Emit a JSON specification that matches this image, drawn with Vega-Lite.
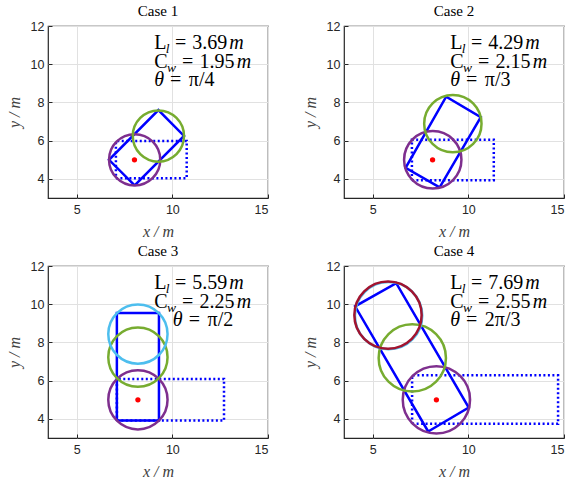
{
  "$schema": "https://vega.github.io/schema/vega-lite/v6.json",
  "background": "white",
  "padding": {"left": 5, "top": 3, "right": 5, "bottom": 3},
  "data": {"values": [
    {"case": "Case 1", "t": "dotted", "i": 1, "x": 7.05, "y": 4.03},
    {"case": "Case 1", "t": "dotted", "i": 2, "x": 10.75, "y": 4.03},
    {"case": "Case 1", "t": "dotted", "i": 3, "x": 10.75, "y": 5.98},
    {"case": "Case 1", "t": "dotted", "i": 4, "x": 7.05, "y": 5.98},
    {"case": "Case 1", "t": "dotted", "i": 5, "x": 7.05, "y": 4.03},
    {"case": "Case 1", "t": "solid", "i": 1, "x": 8.03, "y": 3.66},
    {"case": "Case 1", "t": "solid", "i": 2, "x": 10.61, "y": 6.25},
    {"case": "Case 1", "t": "solid", "i": 3, "x": 9.27, "y": 7.6},
    {"case": "Case 1", "t": "solid", "i": 4, "x": 6.69, "y": 5.0},
    {"case": "Case 1", "t": "solid", "i": 5, "x": 8.03, "y": 3.66},
    {"case": "Case 1", "t": "circle", "k": "1", "x": 8.03, "y": 5.0, "r": 1.34},
    {"case": "Case 1", "t": "circle", "k": "2", "x": 9.27, "y": 6.24, "r": 1.34},
    {"case": "Case 1", "t": "dot", "x": 8.02, "y": 5.0},
    {"case": "Case 1", "t": "tu", "x": 9.05, "y": 10.79, "s": "L"},
    {"case": "Case 1", "t": "ts", "x": 9.66, "y": 10.79, "s": "l"},
    {"case": "Case 1", "t": "tu", "x": 10.14, "y": 10.79, "s": "="},
    {"case": "Case 1", "t": "tu", "x": 11.04, "y": 10.79, "s": "3.69"},
    {"case": "Case 1", "t": "ti", "x": 12.98, "y": 10.79, "s": "m"},
    {"case": "Case 1", "t": "tu", "x": 9.05, "y": 9.82, "s": "C"},
    {"case": "Case 1", "t": "ts", "x": 9.72, "y": 9.82, "s": "w"},
    {"case": "Case 1", "t": "tu", "x": 10.5, "y": 9.82, "s": "="},
    {"case": "Case 1", "t": "tu", "x": 11.42, "y": 9.82, "s": "1.95"},
    {"case": "Case 1", "t": "ti", "x": 13.37, "y": 9.82, "s": "m"},
    {"case": "Case 1", "t": "ti", "x": 9.05, "y": 8.88, "s": "θ"},
    {"case": "Case 1", "t": "tu", "x": 9.88, "y": 8.88, "s": "="},
    {"case": "Case 1", "t": "tu", "x": 10.86, "y": 8.88, "s": "π/4"},

    {"case": "Case 2", "t": "dotted", "i": 1, "x": 7.05, "y": 3.93},
    {"case": "Case 2", "t": "dotted", "i": 2, "x": 11.33, "y": 3.93},
    {"case": "Case 2", "t": "dotted", "i": 3, "x": 11.33, "y": 6.05},
    {"case": "Case 2", "t": "dotted", "i": 4, "x": 7.05, "y": 6.05},
    {"case": "Case 2", "t": "dotted", "i": 5, "x": 7.05, "y": 3.93},
    {"case": "Case 2", "t": "solid", "i": 1, "x": 8.5, "y": 3.56},
    {"case": "Case 2", "t": "solid", "i": 2, "x": 10.65, "y": 7.23},
    {"case": "Case 2", "t": "solid", "i": 3, "x": 8.84, "y": 8.3},
    {"case": "Case 2", "t": "solid", "i": 4, "x": 6.72, "y": 4.58},
    {"case": "Case 2", "t": "solid", "i": 5, "x": 8.5, "y": 3.56},
    {"case": "Case 2", "t": "circle", "k": "1", "x": 8.14, "y": 5.0, "r": 1.5},
    {"case": "Case 2", "t": "circle", "k": "2", "x": 9.19, "y": 6.89, "r": 1.5},
    {"case": "Case 2", "t": "dot", "x": 8.13, "y": 5.0},
    {"case": "Case 2", "t": "tu", "x": 9.05, "y": 10.79, "s": "L"},
    {"case": "Case 2", "t": "ts", "x": 9.66, "y": 10.79, "s": "l"},
    {"case": "Case 2", "t": "tu", "x": 10.14, "y": 10.79, "s": "="},
    {"case": "Case 2", "t": "tu", "x": 11.04, "y": 10.79, "s": "4.29"},
    {"case": "Case 2", "t": "ti", "x": 12.98, "y": 10.79, "s": "m"},
    {"case": "Case 2", "t": "tu", "x": 9.05, "y": 9.82, "s": "C"},
    {"case": "Case 2", "t": "ts", "x": 9.72, "y": 9.82, "s": "w"},
    {"case": "Case 2", "t": "tu", "x": 10.5, "y": 9.82, "s": "="},
    {"case": "Case 2", "t": "tu", "x": 11.42, "y": 9.82, "s": "2.15"},
    {"case": "Case 2", "t": "ti", "x": 13.37, "y": 9.82, "s": "m"},
    {"case": "Case 2", "t": "ti", "x": 9.05, "y": 8.88, "s": "θ"},
    {"case": "Case 2", "t": "tu", "x": 9.88, "y": 8.88, "s": "="},
    {"case": "Case 2", "t": "tu", "x": 10.86, "y": 8.88, "s": "π/3"},

    {"case": "Case 3", "t": "dotted", "i": 1, "x": 7.1, "y": 3.91},
    {"case": "Case 3", "t": "dotted", "i": 2, "x": 12.7, "y": 3.91},
    {"case": "Case 3", "t": "dotted", "i": 3, "x": 12.7, "y": 6.09},
    {"case": "Case 3", "t": "dotted", "i": 4, "x": 7.1, "y": 6.09},
    {"case": "Case 3", "t": "dotted", "i": 5, "x": 7.1, "y": 3.91},
    {"case": "Case 3", "t": "solid", "i": 1, "x": 7.1, "y": 3.91},
    {"case": "Case 3", "t": "solid", "i": 2, "x": 9.3, "y": 3.91},
    {"case": "Case 3", "t": "solid", "i": 3, "x": 9.3, "y": 9.54},
    {"case": "Case 3", "t": "solid", "i": 4, "x": 7.1, "y": 9.54},
    {"case": "Case 3", "t": "solid", "i": 5, "x": 7.1, "y": 3.91},
    {"case": "Case 3", "t": "circle", "k": "1", "x": 8.2, "y": 5.0, "r": 1.55},
    {"case": "Case 3", "t": "circle", "k": "2", "x": 8.2, "y": 7.23, "r": 1.55},
    {"case": "Case 3", "t": "circle", "k": "3", "x": 8.2, "y": 8.44, "r": 1.55},
    {"case": "Case 3", "t": "dot", "x": 8.2, "y": 5.0},
    {"case": "Case 3", "t": "tu", "x": 9.05, "y": 10.79, "s": "L"},
    {"case": "Case 3", "t": "ts", "x": 9.66, "y": 10.79, "s": "l"},
    {"case": "Case 3", "t": "tu", "x": 10.14, "y": 10.79, "s": "="},
    {"case": "Case 3", "t": "tu", "x": 11.04, "y": 10.79, "s": "5.59"},
    {"case": "Case 3", "t": "ti", "x": 12.98, "y": 10.79, "s": "m"},
    {"case": "Case 3", "t": "tu", "x": 9.05, "y": 9.82, "s": "C"},
    {"case": "Case 3", "t": "ts", "x": 9.72, "y": 9.82, "s": "w"},
    {"case": "Case 3", "t": "tu", "x": 10.5, "y": 9.82, "s": "="},
    {"case": "Case 3", "t": "tu", "x": 11.42, "y": 9.82, "s": "2.25"},
    {"case": "Case 3", "t": "ti", "x": 13.37, "y": 9.82, "s": "m"},
    {"case": "Case 3", "t": "ti", "x": 10.02, "y": 8.88, "s": "θ"},
    {"case": "Case 3", "t": "tu", "x": 10.86, "y": 8.88, "s": "="},
    {"case": "Case 3", "t": "tu", "x": 11.84, "y": 8.88, "s": "π/2"},

    {"case": "Case 4", "t": "dotted", "i": 1, "x": 7.06, "y": 3.75},
    {"case": "Case 4", "t": "dotted", "i": 2, "x": 14.69, "y": 3.75},
    {"case": "Case 4", "t": "dotted", "i": 3, "x": 14.69, "y": 6.28},
    {"case": "Case 4", "t": "dotted", "i": 4, "x": 7.06, "y": 6.28},
    {"case": "Case 4", "t": "dotted", "i": 5, "x": 7.06, "y": 3.75},
    {"case": "Case 4", "t": "solid", "i": 1, "x": 7.9, "y": 3.34},
    {"case": "Case 4", "t": "solid", "i": 2, "x": 10.02, "y": 4.59},
    {"case": "Case 4", "t": "solid", "i": 3, "x": 6.23, "y": 11.1},
    {"case": "Case 4", "t": "solid", "i": 4, "x": 4.08, "y": 9.89},
    {"case": "Case 4", "t": "solid", "i": 5, "x": 7.9, "y": 3.34},
    {"case": "Case 4", "t": "circle", "k": "1", "x": 8.33, "y": 5.0, "r": 1.76},
    {"case": "Case 4", "t": "circle", "k": "2", "x": 7.07, "y": 7.19, "r": 1.76},
    {"case": "Case 4", "t": "circle", "k": "3", "x": 5.83, "y": 9.4, "r": 1.76},
    {"case": "Case 4", "t": "circle", "k": "4", "x": 5.8, "y": 9.43, "r": 1.76},
    {"case": "Case 4", "t": "dot", "x": 8.33, "y": 5.0},
    {"case": "Case 4", "t": "tu", "x": 9.05, "y": 10.79, "s": "L"},
    {"case": "Case 4", "t": "ts", "x": 9.66, "y": 10.79, "s": "l"},
    {"case": "Case 4", "t": "tu", "x": 10.14, "y": 10.79, "s": "="},
    {"case": "Case 4", "t": "tu", "x": 11.04, "y": 10.79, "s": "7.69"},
    {"case": "Case 4", "t": "ti", "x": 12.98, "y": 10.79, "s": "m"},
    {"case": "Case 4", "t": "tu", "x": 9.05, "y": 9.82, "s": "C"},
    {"case": "Case 4", "t": "ts", "x": 9.72, "y": 9.82, "s": "w"},
    {"case": "Case 4", "t": "tu", "x": 10.5, "y": 9.82, "s": "="},
    {"case": "Case 4", "t": "tu", "x": 11.42, "y": 9.82, "s": "2.55"},
    {"case": "Case 4", "t": "ti", "x": 13.37, "y": 9.82, "s": "m"},
    {"case": "Case 4", "t": "ti", "x": 9.05, "y": 8.88, "s": "θ"},
    {"case": "Case 4", "t": "tu", "x": 9.88, "y": 8.88, "s": "="},
    {"case": "Case 4", "t": "tu", "x": 10.86, "y": 8.88, "s": "2π/3"}
  ]},
  "facet": {
    "field": "case", "type": "nominal",
    "header": {"title": null, "labelFont": "Liberation Serif", "labelFontSize": 15, "labelColor": "#000000", "labelPadding": 1}
  },
  "columns": 2,
  "spacing": {"row": 68, "column": 76},
  "bounds": "flush",
  "resolve": {"axis": {"x": "independent", "y": "independent"}},
  "spec": {
    "width": 220,
    "height": 172,
    "encoding": {
      "x": {"field": "x", "type": "quantitative",
            "scale": {"domain": [3.5, 15], "nice": false, "zero": false},
            "axis": {"values": [5, 10, 15], "title": "x / m"}},
      "y": {"field": "y", "type": "quantitative",
            "scale": {"domain": [3, 12], "nice": false, "zero": false},
            "axis": {"values": [4, 6, 8, 10, 12], "title": "y / m"}}
    },
    "layer": [
      {"transform": [{"filter": "datum.t === 'dotted'"}],
       "mark": {"type": "line", "color": "#0000FF", "strokeWidth": 2.5, "strokeDash": [2, 2.5], "strokeCap": "butt"},
       "encoding": {"order": {"field": "i", "type": "quantitative"}}},
      {"transform": [{"filter": "datum.t === 'solid'"}],
       "mark": {"type": "line", "color": "#0000FF", "strokeWidth": 2.5, "strokeJoin": "miter"},
       "encoding": {"order": {"field": "i", "type": "quantitative"}}},
      {"transform": [{"filter": "datum.t === 'circle'"}],
       "mark": {"type": "point", "shape": "circle", "filled": false, "strokeWidth": 2.5, "opacity": 1},
       "encoding": {
         "size": {"field": "r", "type": "quantitative", "scale": {"type": "pow", "exponent": 2, "domain": [0, 2], "range": [0, 5849]}, "legend": null},
         "stroke": {"field": "k", "type": "nominal", "scale": {"domain": ["1", "2", "3", "4"], "range": ["#7E2F8E", "#77AC30", "#4DBEEE", "#A2142F"]}, "legend": null}
       }},
      {"transform": [{"filter": "datum.t === 'dot'"}],
       "mark": {"type": "point", "shape": "circle", "filled": true, "color": "#FF0000", "size": 28, "opacity": 1}},
      {"transform": [{"filter": "datum.t === 'tu'"}],
       "mark": {"type": "text", "align": "left", "baseline": "alphabetic", "font": "Liberation Serif", "fontSize": 20, "color": "#000000"},
       "encoding": {"text": {"field": "s"}}},
      {"transform": [{"filter": "datum.t === 'ti'"}],
       "mark": {"type": "text", "align": "left", "baseline": "alphabetic", "font": "Liberation Serif", "fontStyle": "italic", "fontSize": 20, "color": "#000000"},
       "encoding": {"text": {"field": "s"}}},
      {"transform": [{"filter": "datum.t === 'ts'"}],
       "mark": {"type": "text", "align": "left", "baseline": "alphabetic", "font": "Liberation Serif", "fontStyle": "italic", "fontSize": 13.5, "dy": 4, "color": "#000000"},
       "encoding": {"text": {"field": "s"}}}
    ]
  },
  "config": {
    "view": {"stroke": "#262626", "strokeWidth": 1.2},
    "axis": {
      "domain": false,
      "grid": true,
      "gridColor": "#e1e1e1",
      "gridWidth": 1,
      "ticks": true,
      "tickSize": -4,
      "tickColor": "#262626",
      "labelFont": "Liberation Sans",
      "labelFontSize": 12.5,
      "labelColor": "#262626",
      "titleFont": "Liberation Serif",
      "titleFontStyle": "italic",
      "titleFontWeight": "normal",
      "titleFontSize": 16,
      "titleColor": "#404040"
    },
    "axisX": {"labelPadding": 9, "titlePadding": 8},
    "axisY": {"labelPadding": 8, "titlePadding": 8}
  }
}
